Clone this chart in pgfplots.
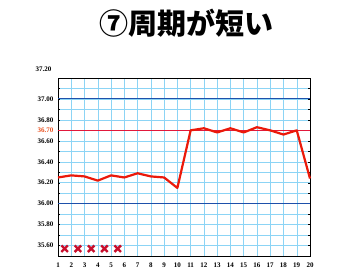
\documentclass[border=0pt]{standalone}
\usepackage{fontspec}
\setmainfont{Liberation Serif}
\newfontfamily\cjk{Noto Sans CJK JP}
\usepackage{pgfplots}
\pgfplotsset{compat=1.18}
\definecolor{gridc}{RGB}{140,212,245}
\definecolor{blueln}{RGB}{30,80,170}
\definecolor{redln}{RGB}{225,25,60}
\definecolor{dataln}{RGB}{235,25,10}
\definecolor{xmk}{RGB}{200,15,45}
\definecolor{lbl}{RGB}{235,80,30}
\begin{document}
\begin{tikzpicture}[x=1pt,y=1pt]
\path[use as bounding box, fill=white] (0,0) rectangle (350,280);
\node[font=\cjk\bfseries\fontsize{29}{32}\selectfont] at (186,257) {⑦周期が短い};
\begin{axis}[
  at={(58pt,24pt)},
  scale only axis,
  width=252pt, height=178pt,
  xmin=1, xmax=20, ymin=35.5, ymax=37.2,
  xtick={1,2,...,20},
  ytick={35.6,35.8,36.0,36.2,36.4,36.6,36.8,37.0},
  minor ytick={35.5,35.7,35.9,36.1,36.3,36.5,36.7,36.9,37.1},
  extra y ticks={36.7},
  extra y tick style={tick label style={text=lbl}, grid=none},
  grid=both,
  major grid style={gridc, line width=0.45pt},
  minor grid style={gridc, line width=0.45pt},
  tick style={black, line width=0.4pt},
  tick align=inside,
  major tick length=2pt, minor tick length=2pt,
  xtick style={draw=none},
  axis line style={black, line width=0.9pt},
  /pgf/number format/assume math mode=true,
  yticklabel style={/pgf/number format/fixed, /pgf/number format/fixed zerofill, /pgf/number format/precision=2, font=\bfseries\fontsize{7}{8}\selectfont},
  xticklabel style={font=\bfseries\fontsize{7}{8}\selectfont},
  yticklabel shift=1pt,
  xticklabel shift=3pt,
  clip=false,
]
\addplot[blueln, line width=0.9pt] coordinates {(1,37.0) (20,37.0)};
\addplot[blueln, line width=0.9pt] coordinates {(1,36.0) (20,36.0)};
\addplot[redln, line width=0.9pt] coordinates {(1,36.7) (20,36.7)};
\addplot[dataln, line width=2.2pt, line join=round] coordinates {
(1,36.25) (2,36.27) (3,36.26) (4,36.22) (5,36.27) (6,36.25) (7,36.29) (8,36.26) (9,36.25) (10,36.15)
(11,36.70) (12,36.72) (13,36.68) (14,36.72) (15,36.68) (16,36.73) (17,36.70) (18,36.66) (19,36.70) (20,36.24)};
\addplot[only marks, mark=x, mark size=4.6pt, xmk, mark options={line width=2.4pt}] coordinates {
(1.5,35.57) (2.5,35.57) (3.5,35.57) (4.5,35.57) (5.5,35.57)};
\node[font=\bfseries\fontsize{7}{8}\selectfont, anchor=east] at (rel axis cs:0,1) [xshift=-3pt, yshift=9pt] {37.20};
\end{axis}
\end{tikzpicture}
\end{document}
